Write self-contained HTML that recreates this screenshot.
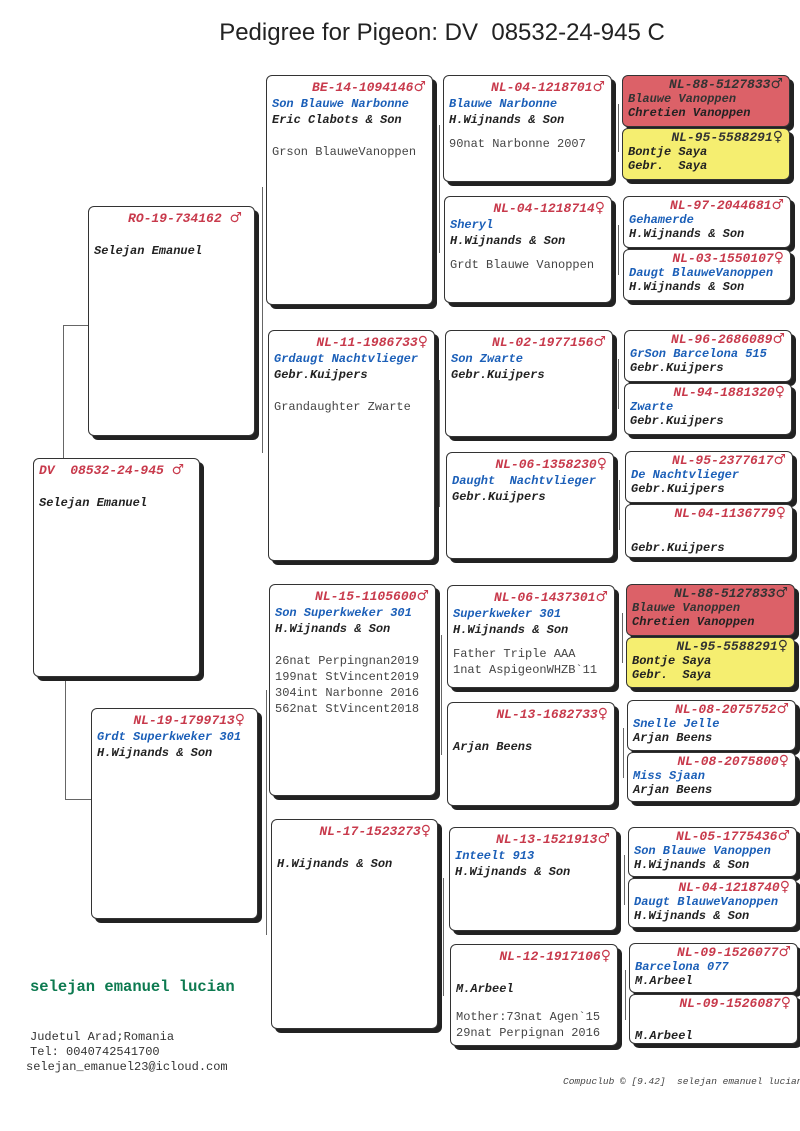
<!DOCTYPE html>
<html><head><meta charset="utf-8">
<style>
body{margin:0;background:#fff;}
#p{position:relative;width:800px;height:1131px;overflow:hidden;background:#fff;font-family:"Liberation Mono",monospace;}
.b{position:absolute;box-sizing:border-box;border:1px solid #333;border-radius:6px;background:#fff;box-shadow:4px 4px 0 #222;padding:4px 6px 0 5px;font-size:12px;line-height:16px;overflow:hidden;}
.s{line-height:14px;padding-top:2px;}
.r{text-align:right;color:#c83a4c;font-weight:bold;font-style:italic;font-size:13px;}
.g{font-family:"DejaVu Sans",sans-serif;font-style:normal;font-weight:bold;font-size:14px;line-height:12px;}
.n{color:#1b5fb8;font-weight:bold;font-style:italic;white-space:nowrap;}
.o{color:#222;font-weight:bold;font-style:italic;white-space:nowrap;}
.c{color:#444;white-space:nowrap;}
.red{background:#dc6168;}
.red .r,.yel .r{color:#333;}
.red .n,.yel .n{color:#333;}
.yel{background:#f5ee70;}
.l{position:absolute;background:#666;}
.t{position:absolute;white-space:nowrap;}
</style></head><body><div id="p">
<div class="t" style="left:0;width:884px;top:19px;text-align:center;font-family:'Liberation Sans',sans-serif;font-size:24px;color:#222;">Pedigree for Pigeon: DV &nbsp;08532-24-945 C</div>

<!-- connectors -->
<div class="l" style="left:63px;top:325px;width:1px;height:134px"></div>
<div class="l" style="left:63px;top:325px;width:25px;height:1px"></div>
<div class="l" style="left:65px;top:677px;width:1px;height:122px"></div>
<div class="l" style="left:65px;top:799px;width:26px;height:1px"></div>
<div class="l" style="left:262px;top:187px;width:1px;height:266px"></div>
<div class="l" style="left:266px;top:690px;width:1px;height:245px"></div>
<div class="l" style="left:439px;top:125px;width:1px;height:128px"></div>
<div class="l" style="left:439px;top:380px;width:1px;height:127px"></div>
<div class="l" style="left:441px;top:635px;width:1px;height:120px"></div>
<div class="l" style="left:443px;top:878px;width:1px;height:118px"></div>
<div class="l" style="left:618px;top:104px;width:1px;height:48px"></div>
<div class="l" style="left:618px;top:225px;width:1px;height:50px"></div>
<div class="l" style="left:618px;top:359px;width:1px;height:50px"></div>
<div class="l" style="left:619px;top:480px;width:1px;height:50px"></div>
<div class="l" style="left:622px;top:613px;width:1px;height:50px"></div>
<div class="l" style="left:623px;top:728px;width:1px;height:50px"></div>
<div class="l" style="left:624px;top:855px;width:1px;height:50px"></div>
<div class="l" style="left:625px;top:970px;width:1px;height:50px"></div>

<!-- subject -->
<div class="b" style="left:33px;top:458px;width:167px;height:219px;padding-top:4px">
<div class="r" style="text-align:left">DV &nbsp;08532-24-945 <span class="g">♂</span></div><div>&nbsp;</div><div class="o">Selejan Emanuel</div></div>

<!-- col2 -->
<div class="b" style="left:88px;top:206px;width:167px;height:230px">
<div class="r" style="padding-right:6px">RO-19-734162 <span class="g">♂</span></div><div>&nbsp;</div><div class="o">Selejan Emanuel</div></div>
<div class="b" style="left:91px;top:708px;width:167px;height:211px">
<div class="r" style="padding-right:6px">NL-19-1799713<span class="g">♀</span></div><div class="n">Grdt Superkweker 301</div><div class="o">H.Wijnands &amp; Son</div></div>

<!-- col3 -->
<div class="b" style="left:266px;top:75px;width:167px;height:230px">
<div class="r">BE-14-1094146<span class="g">♂</span></div><div class="n">Son Blauwe Narbonne</div><div class="o">Eric Clabots &amp; Son</div><div>&nbsp;</div><div class="c">Grson BlauweVanoppen</div></div>
<div class="b" style="left:268px;top:330px;width:167px;height:231px">
<div class="r">NL-11-1986733<span class="g">♀</span></div><div class="n">Grdaugt Nachtvlieger</div><div class="o">Gebr.Kuijpers</div><div>&nbsp;</div><div class="c">Grandaughter Zwarte</div></div>
<div class="b" style="left:269px;top:584px;width:167px;height:212px">
<div class="r">NL-15-1105600<span class="g">♂</span></div><div class="n">Son Superkweker 301</div><div class="o">H.Wijnands &amp; Son</div><div>&nbsp;</div><div class="c">26nat Perpingnan2019</div><div class="c">199nat StVincent2019</div><div class="c">304int Narbonne 2016</div><div class="c">562nat StVincent2018</div></div>
<div class="b" style="left:271px;top:819px;width:167px;height:210px">
<div class="r">NL-17-1523273<span class="g">♀</span></div><div>&nbsp;</div><div class="o">H.Wijnands &amp; Son</div></div>

<!-- col4 -->
<div class="b" style="left:443px;top:75px;width:169px;height:107px">
<div class="r">NL-04-1218701<span class="g">♂</span></div><div class="n">Blauwe Narbonne</div><div class="o">H.Wijnands &amp; Son</div><div style="height:8px"></div><div class="c">90nat Narbonne 2007</div></div>
<div class="b" style="left:444px;top:196px;width:168px;height:107px">
<div class="r">NL-04-1218714<span class="g">♀</span></div><div class="n">Sheryl</div><div class="o">H.Wijnands &amp; Son</div><div style="height:8px"></div><div class="c">Grdt Blauwe Vanoppen</div></div>
<div class="b" style="left:445px;top:330px;width:168px;height:107px">
<div class="r">NL-02-1977156<span class="g">♂</span></div><div class="n">Son Zwarte</div><div class="o">Gebr.Kuijpers</div></div>
<div class="b" style="left:446px;top:452px;width:168px;height:107px">
<div class="r">NL-06-1358230<span class="g">♀</span></div><div class="n">Daught &nbsp;Nachtvlieger</div><div class="o">Gebr.Kuijpers</div></div>
<div class="b" style="left:447px;top:585px;width:168px;height:103px">
<div class="r">NL-06-1437301<span class="g">♂</span></div><div class="n">Superkweker 301</div><div class="o">H.Wijnands &amp; Son</div><div style="height:8px"></div><div class="c">Father Triple AAA</div><div class="c">1nat AspigeonWHZB`11</div></div>
<div class="b" style="left:447px;top:702px;width:168px;height:104px">
<div class="r">NL-13-1682733<span class="g">♀</span></div><div>&nbsp;</div><div class="o">Arjan Beens</div></div>
<div class="b" style="left:449px;top:827px;width:168px;height:104px">
<div class="r">NL-13-1521913<span class="g">♂</span></div><div class="n">Inteelt 913</div><div class="o">H.Wijnands &amp; Son</div></div>
<div class="b" style="left:450px;top:944px;width:168px;height:102px">
<div class="r">NL-12-1917106<span class="g">♀</span></div><div>&nbsp;</div><div class="o">M.Arbeel</div><div style="height:12px"></div><div class="c">Mother:73nat Agen`15</div><div class="c">29nat Perpignan 2016</div></div>

<!-- col5 -->
<div class="b s red" style="left:622px;top:75px;width:168px;height:52px"><div class="r">NL-88-5127833<span class="g">♂</span></div><div class="n">Blauwe Vanoppen</div><div class="o">Chretien Vanoppen</div></div>
<div class="b s yel" style="left:622px;top:128px;width:168px;height:52px"><div class="r">NL-95-5588291<span class="g">♀</span></div><div class="o">Bontje Saya</div><div class="o">Gebr. &nbsp;Saya</div></div>
<div class="b s" style="left:623px;top:196px;width:168px;height:52px"><div class="r">NL-97-2044681<span class="g">♂</span></div><div class="n">Gehamerde</div><div class="o">H.Wijnands &amp; Son</div></div>
<div class="b s" style="left:623px;top:249px;width:168px;height:52px"><div class="r">NL-03-1550107<span class="g">♀</span></div><div class="n">Daugt BlauweVanoppen</div><div class="o">H.Wijnands &amp; Son</div></div>
<div class="b s" style="left:624px;top:330px;width:168px;height:52px"><div class="r">NL-96-2686089<span class="g">♂</span></div><div class="n">GrSon Barcelona 515</div><div class="o">Gebr.Kuijpers</div></div>
<div class="b s" style="left:624px;top:383px;width:168px;height:52px"><div class="r">NL-94-1881320<span class="g">♀</span></div><div class="n">Zwarte</div><div class="o">Gebr.Kuijpers</div></div>
<div class="b s" style="left:625px;top:451px;width:168px;height:52px"><div class="r">NL-95-2377617<span class="g">♂</span></div><div class="n">De Nachtvlieger</div><div class="o">Gebr.Kuijpers</div></div>
<div class="b s" style="left:625px;top:504px;width:168px;height:54px"><div class="r">NL-04-1136779<span class="g">♀</span></div><div>&nbsp;</div><div class="o" style="margin-top:6px">Gebr.Kuijpers</div></div>
<div class="b s red" style="left:626px;top:584px;width:169px;height:52px"><div class="r">NL-88-5127833<span class="g">♂</span></div><div class="n">Blauwe Vanoppen</div><div class="o">Chretien Vanoppen</div></div>
<div class="b s yel" style="left:626px;top:637px;width:169px;height:51px"><div class="r">NL-95-5588291<span class="g">♀</span></div><div class="o">Bontje Saya</div><div class="o">Gebr. &nbsp;Saya</div></div>
<div class="b s" style="left:627px;top:700px;width:169px;height:51px"><div class="r">NL-08-2075752<span class="g">♂</span></div><div class="n">Snelle Jelle</div><div class="o">Arjan Beens</div></div>
<div class="b s" style="left:627px;top:752px;width:169px;height:50px"><div class="r">NL-08-2075800<span class="g">♀</span></div><div class="n">Miss Sjaan</div><div class="o">Arjan Beens</div></div>
<div class="b s" style="left:628px;top:827px;width:169px;height:50px"><div class="r">NL-05-1775436<span class="g">♂</span></div><div class="n">Son Blauwe Vanoppen</div><div class="o">H.Wijnands &amp; Son</div></div>
<div class="b s" style="left:628px;top:878px;width:169px;height:50px"><div class="r">NL-04-1218740<span class="g">♀</span></div><div class="n">Daugt BlauweVanoppen</div><div class="o">H.Wijnands &amp; Son</div></div>
<div class="b s" style="left:629px;top:943px;width:169px;height:50px"><div class="r">NL-09-1526077<span class="g">♂</span></div><div class="n">Barcelona 077</div><div class="o">M.Arbeel</div></div>
<div class="b s" style="left:629px;top:994px;width:169px;height:50px"><div class="r">NL-09-1526087<span class="g">♀</span></div><div>&nbsp;</div><div class="o" style="margin-top:4px">M.Arbeel</div></div>

<!-- footer -->
<div class="t" style="left:30px;top:978px;font-size:15.5px;font-weight:bold;color:#0d7a50;">selejan emanuel lucian</div>
<div class="t" style="left:30px;top:1030px;font-size:12px;line-height:15px;color:#333;">Judetul Arad;Romania<br>Tel: 0040742541700</div>
<div class="t" style="left:26px;top:1060px;font-size:12px;color:#333;">selejan_emanuel23@icloud.com</div>
<div class="t" style="left:563px;top:1076px;font-size:9.5px;font-style:italic;color:#444;">Compuclub © [9.42] &nbsp;selejan emanuel lucian</div>
</div></body></html>
